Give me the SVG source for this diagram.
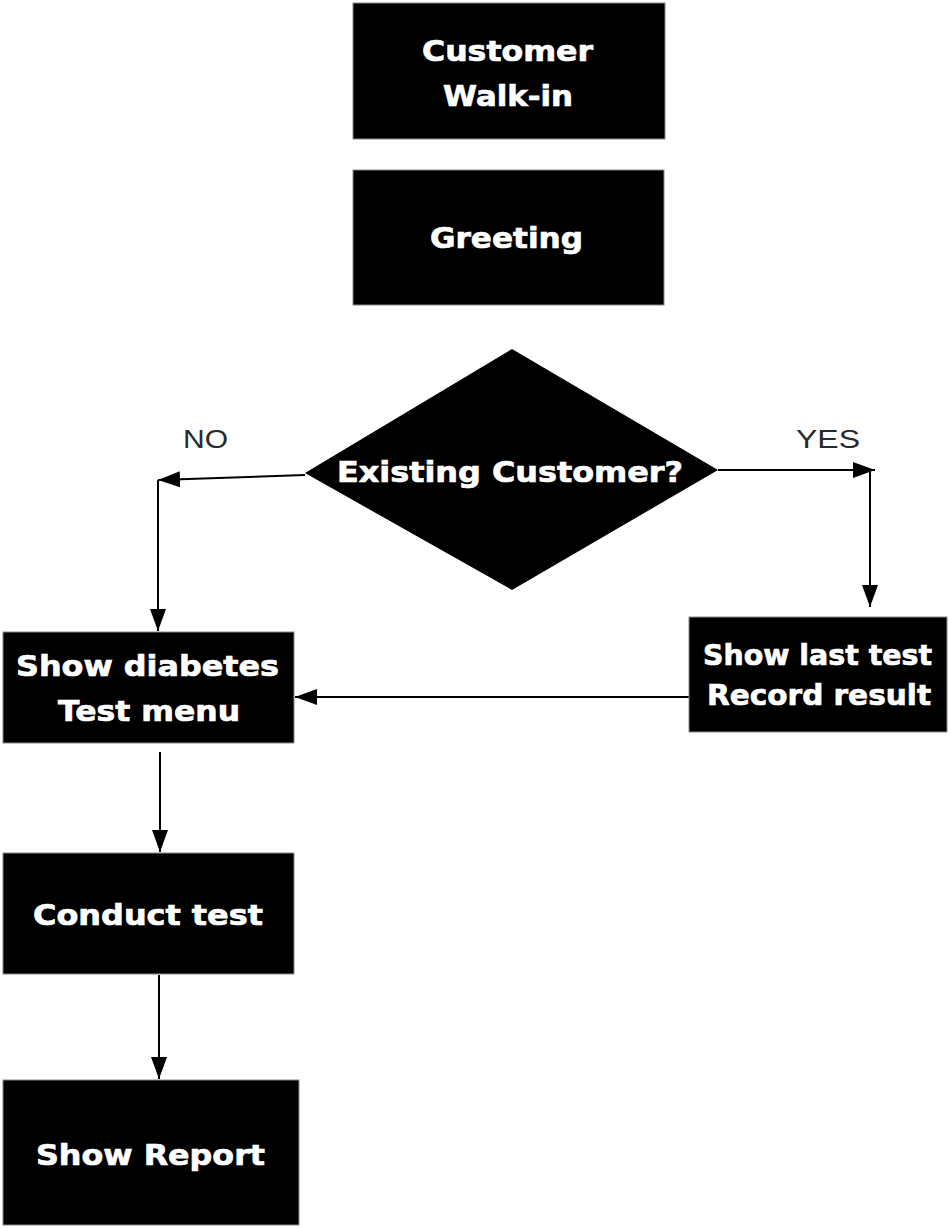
<svg xmlns="http://www.w3.org/2000/svg" width="950" height="1228" viewBox="0 0 950 1228">
<defs>
<style>
.box{fill:#000;stroke:#8a8a8a;stroke-width:1}
.t{font-family:"DejaVu Sans",Verdana,sans-serif;font-weight:bold;font-size:29px;fill:#fff;stroke:#fff;stroke-width:0.7}
.lbl{font-family:"Liberation Sans",Arial,sans-serif;font-size:26px;fill:#2a2a2a}
.c{fill:none;stroke:#000;stroke-width:2}
</style>
<marker id="arr" markerUnits="userSpaceOnUse" markerWidth="24" markerHeight="16" refX="22" refY="8" orient="auto" viewBox="0 0 24 16">
<path d="M0,0 L22,8 L0,16 z" fill="#000"/>
</marker>
</defs>
<rect width="950" height="1228" fill="#fff"/>
<g id="connectors">
<path class="c" d="M305,475 L158,480" marker-end="url(#arr)"/>
<path class="c" d="M158,480 L158,631" marker-end="url(#arr)"/>
<path class="c" d="M718,470 L875,470" marker-end="url(#arr)"/>
<path class="c" d="M870,470 L870,607" marker-end="url(#arr)"/>
<path class="c" d="M689,697 L295,697" marker-end="url(#arr)"/>
<path class="c" d="M160,752 L160,852" marker-end="url(#arr)"/>
<path class="c" d="M159,975 L159,1079" marker-end="url(#arr)"/>
</g>
<g id="labels">
<text class="lbl" x="183" y="448" textLength="45" lengthAdjust="spacingAndGlyphs">NO</text>
<text class="lbl" x="796" y="448" textLength="64" lengthAdjust="spacingAndGlyphs">YES</text>
</g>
<g id="walkin">
<rect class="box" x="353" y="3" width="312" height="136"/>
<text class="t" x="422" y="61" font-size="30" textLength="171" lengthAdjust="spacingAndGlyphs">Customer</text>
<text class="t" x="443" y="106" font-size="30" textLength="130" lengthAdjust="spacingAndGlyphs">Walk-in</text>
</g>
<g id="greeting">
<rect class="box" x="353" y="170" width="311" height="135"/>
<text class="t" x="430" y="248" textLength="153" lengthAdjust="spacingAndGlyphs">Greeting</text>
</g>
<g id="existing">
<polygon points="512,349 718,470 512,590 305,473" fill="#000"/>
<text class="t" x="337" y="482" font-size="30" textLength="346" lengthAdjust="spacingAndGlyphs">Existing Customer?</text>
</g>
<g id="menu">
<rect class="box" x="3" y="632" width="291" height="111"/>
<text class="t" x="16" y="676" textLength="263" lengthAdjust="spacingAndGlyphs">Show diabetes</text>
<text class="t" x="58" y="721" textLength="182" lengthAdjust="spacingAndGlyphs">Test menu</text>
</g>
<g id="lasttest">
<rect class="box" x="689" y="617" width="258" height="115"/>
<text class="t" x="703" y="665" textLength="229" lengthAdjust="spacingAndGlyphs">Show last test</text>
<text class="t" x="707" y="705" textLength="224" lengthAdjust="spacingAndGlyphs">Record result</text>
</g>
<g id="conduct">
<rect class="box" x="3" y="853" width="291" height="121"/>
<text class="t" x="33" y="925" textLength="230" lengthAdjust="spacingAndGlyphs">Conduct test</text>
</g>
<g id="report">
<rect class="box" x="3" y="1080" width="296" height="145"/>
<text class="t" x="36" y="1165" textLength="229" lengthAdjust="spacingAndGlyphs">Show Report</text>
</g>
</svg>
